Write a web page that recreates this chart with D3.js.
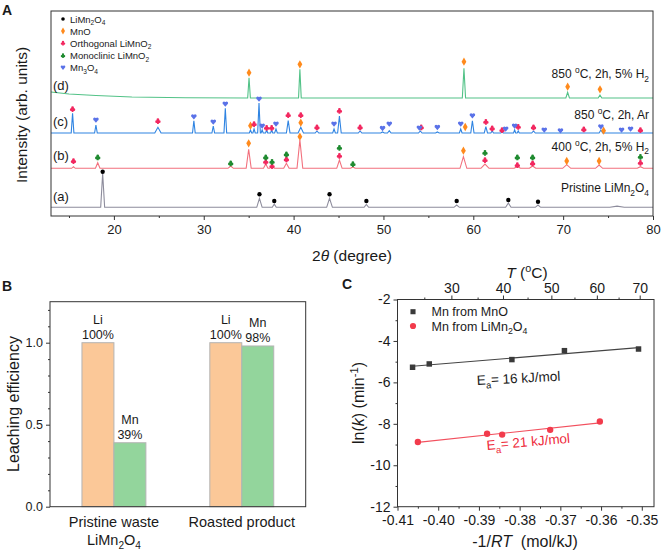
<!DOCTYPE html>
<html><head><meta charset="utf-8">
<script src="https://cdn.jsdelivr.net/npm/d3@7"></script>
<style>
body{margin:0;background:#fff}
svg{display:block}
text{font-family:"Liberation Sans",Arial,sans-serif;fill:#1a1a1a}
</style>
</head><body>
<svg id="fig" width="661" height="552"></svg>
<script>
// ===== Panel A data (XRD patterns) =====
const xTicksA = [20,30,40,50,60,70,80];
const xMinorA = [15,25,35,45,55,65,75];
const traceNames = ["a","b","c","d"];
const traceBase = [8.7, 47.7, 83, 118];
const traceColors = ["#8d8c9c","#f2707d","#2f84e2","#52c287"];
// peaks: [2theta, height, half-width]
const peaksA_a = [[18.75,33.8,0.22],[36.2,9,0.3],[37.85,3.3,0.22],[44.0,9,0.32],[48.1,2.8,0.25],[58.15,2.3,0.3],[63.9,4.3,0.3],[67.2,2.3,0.3],[76.0,1.2,0.8]];
const peaksA_b = [[15.5,1.6,0.2],[18.2,5.6,0.25],[33.0,2.3,0.3],[35.0,19,0.28],[36.9,4.3,0.25],[37.6,2.3,0.25],[39.2,5,0.3],[40.7,28.3,0.32],[45.1,8.3,0.3],[46.6,1.3,0.25],[58.9,11.6,0.38],[61.3,4.3,0.45],[64.9,1.8,0.35],[66.6,2.3,0.35],[70.4,3.6,0.45],[74.0,3.3,0.4],[78.6,1.6,0.35]];
const peaksA_c = [[15.4,19.7,0.15],[18.0,8,0.15],[24.9,5.7,0.35],[28.9,12.3,0.15],[31.06,7,0.15],[32.4,24.7,0.15],[35.2,3,0.13],[35.6,4,0.13],[36.15,30,0.15],[36.5,3,0.12],[37.0,3,0.12],[37.56,3,0.12],[38.04,4,0.15],[39.4,12.3,0.2],[40.8,5.7,0.3],[42.6,2,0.2],[44.5,4,0.15],[45.1,17,0.2],[47.4,2,0.2],[49.9,1,0.2],[50.65,2.3,0.2],[54.1,2,0.2],[56.0,1,0.2],[58.6,4,0.15],[59.9,12.3,0.18],[61.4,6.3,0.18],[62.1,2,0.15],[63.2,1,0.15],[64.6,3,0.12],[65.0,2,0.12],[66.7,2,0.2],[74.2,3,0.2]];
const peaksA_d = [[35.04,20.3,0.15],[40.7,28.7,0.15],[58.96,29.7,0.18],[70.5,5.7,0.2],[74.1,3,0.2]];
const bgA_d = [[13,124],[15,122],[18,120.5],[22,119],[28,118.3]];
// phase markers: [2theta, intensity]
const mkLiMn2O4 = [[18.75,44.3],[36.2,21.7],[37.85,15],[44.0,21.7],[48.1,15],[58.15,15],[63.9,16],[67.2,14.3]];
const mkMnO = [[35.04,143.3],[40.7,151.7],[58.96,154.3],[70.5,129.3],[74.1,126.7],[35.2,90.3],[40.8,93.3],[59.1,89],[74.5,85.3],[35.0,72.7],[40.7,79.3],[58.9,65.3],[70.4,55],[74.0,55]];
const mkOrtho = [[15.4,107],[24.9,95],[35.6,92],[37.0,88.3],[37.56,88.3],[39.4,101],[40.8,101],[42.6,88.7],[45.1,105.3],[47.4,88.7],[54.2,88.7],[61.4,94.3],[62.1,87.7],[63.2,86],[65.0,89.3],[66.7,88.7],[72.3,86.7],[78.6,86],[15.5,55],[36.9,54.3],[37.6,50],[39.2,56.7],[45.1,60.3],[61.3,56],[64.9,51],[66.6,52.7],[78.6,53.3]];
const mkMono = [[18.2,58.7],[33.0,52.7],[36.9,58.7],[37.6,54.3],[39.2,61.7],[45.1,68.3],[46.6,52],[61.3,63.3],[64.9,58.7],[66.6,58.7],[78.6,59.3]];
const mkMn3O4 = [[18.0,96],[28.9,99.3],[31.06,94],[32.4,112],[36.15,117],[36.5,90],[38.04,92],[44.5,92],[49.9,87.7],[50.65,92],[54.0,88],[56.0,88.7],[58.6,92],[59.9,100.3],[63.6,87],[64.6,90],[67.9,86],[69.7,85.3],[74.2,89.3],[76.5,86],[77.5,87]];
const legendA = ["LiMn_{2}O_{4}","MnO","Orthogonal LiMnO_{2}","Monoclinic LiMnO_{2}","Mn_{3}O_{4}"];
const traceLabels = ["Pristine LiMn_{2}O_{4}","400 ^{o}C, 2h, 5% H_{2}","850 ^{o}C, 2h, Ar","850 ^{o}C, 2h, 5% H_{2}"];

// ===== Panel B data =====
const catsB = ["pristine","roasted"];
const catLabelsB = [["Pristine waste","LiMn_{2}O_{4}"],["Roasted product"]];
const liB = [1.0, 1.0];
const mnB = [0.39, 0.98];
const liPct = ["100%","100%"];
const mnPct = ["39%","98%"];
const yTicksB = [0,0.5,1.0];
const yMinorB = [0.1,0.2,0.3,0.4,0.6,0.7,0.8,0.9,1.1,1.2];

// ===== Panel C data =====
const mnoX = [-0.4063,-0.4022,-0.3819,-0.3690,-0.3508];
const mnoY = [-5.27,-5.11,-4.90,-4.47,-4.39];
const lmoX = [-0.4050,-0.3880,-0.3843,-0.3725,-0.3603];
const lmoY = [-8.88,-8.48,-8.52,-8.29,-7.89];
const xTicksC = [-0.41,-0.40,-0.39,-0.38,-0.37,-0.36,-0.35];
const xMinorC = [-0.405,-0.395,-0.385,-0.375,-0.365,-0.355];
const yTicksC = [-2,-4,-6,-8,-10,-12];
const yMinorC = [-3,-5,-7,-9,-11];
const tTicksC = [30,40,50,60,70];
const tMinorC = [25,35,45,55,65];
const R_kJ = 0.008314;

// ===== helpers =====
const svg = d3.select("#fig");
function rich(sel, str, fs){
  const parts = str.split(/(_\{[^}]*\}|\^\{[^}]*\}|\*[^*]*\*)/).filter(s=>s.length);
  let cur = 0;
  parts.forEach(p=>{
    let t=p, shift=0, size=null, it=false;
    if(p.startsWith("_{")){t=p.slice(2,-1);shift=fs*0.3;size=fs*0.7;}
    else if(p.startsWith("^{")){t=p.slice(2,-1);shift=-fs*0.4;size=fs*0.7;}
    else if(p.startsWith("*")){t=p.slice(1,-1);it=true;}
    const ts = sel.append("tspan").text(t).attr("dy", (shift-cur).toFixed(2));
    if(size) ts.attr("font-size", size.toFixed(1));
    if(it) ts.attr("font-style","italic");
    cur = shift;
  });
}
function txt(g, x, y, str, o={}){
  const fs = o.fs||12;
  const t = g.append("text").attr("x",x).attr("y",y).attr("font-size",fs)
    .attr("text-anchor",o.anchor||"start").style("white-space","pre");
  if(o.fill) t.style("fill",o.fill);
  if(o.weight) t.attr("font-weight",o.weight);
  if(o.rotate!==undefined) t.attr("transform",`rotate(${o.rotate},${x},${y})`);
  rich(t,str,fs);
  return t;
}
function styleAxis(g, fs){
  g.select(".domain").remove();
  g.selectAll("line").attr("stroke","#333");
  g.selectAll("text").attr("font-size",fs).style("fill","#1a1a1a").attr("font-family",null);
}
const symClub = {draw(ctx,size){const r=Math.sqrt(size)/4.2;
  ctx.moveTo(r,-r);ctx.arc(0,-r,r,0,2*Math.PI);
  ctx.moveTo(-0.95*r+r,0.5*r);ctx.arc(-0.95*r,0.5*r,r,0,2*Math.PI);
  ctx.moveTo(0.95*r+r,0.5*r);ctx.arc(0.95*r,0.5*r,r,0,2*Math.PI);
  ctx.moveTo(0,0);ctx.lineTo(0.8*r,2.2*r);ctx.lineTo(-0.8*r,2.2*r);ctx.closePath();}};
const symHeart = {draw(ctx,size){const r=Math.sqrt(size)/4.4;
  ctx.moveTo(-0.85*r+r,-0.6*r);ctx.arc(-0.85*r,-0.6*r,r,0,2*Math.PI);
  ctx.moveTo(0.85*r+r,-0.6*r);ctx.arc(0.85*r,-0.6*r,r,0,2*Math.PI);
  ctx.moveTo(-1.75*r,-0.2*r);ctx.lineTo(1.75*r,-0.2*r);ctx.lineTo(0,1.9*r);ctx.closePath();}};
const phases = [
  {data:mkLiMn2O4, type:d3.symbolCircle, size:15, color:"#000"},
  {data:mkMnO, type:d3.symbolDiamond, size:20, color:"#ff8a1c"},
  {data:mkOrtho, type:symClub, size:34, color:"#f2275f"},
  {data:mkMono, type:symClub, size:34, color:"#1e8a2f"},
  {data:mkMn3O4, type:symHeart, size:44, color:"#5a72e8"}
];

// ===== Panel A =====
const xA = d3.scaleLinear().domain([13,80]).range([51,653]);
const yA = d3.scaleLinear().domain([0,205]).range([216,11]);
const gA = svg.append("g");
txt(gA, 2, 15, "A", {fs:14, weight:"bold"});
const peakSets = [peaksA_a, peaksA_b, peaksA_c, peaksA_d];
const bgSets = [[],[],[],bgA_d];
const line = d3.line().x(d=>xA(d[0])).y(d=>yA(d[1]));
traceNames.forEach((n,i)=>{
  const b = traceBase[i];
  let pts = bgSets[i].length ? bgSets[i].slice() : [[13,b]];
  peakSets[i].forEach(p=>{ pts.push([p[0]-p[2],b],[p[0],b+p[1]],[p[0]+p[2],b]); });
  pts.push([80,b]);
  pts.sort((u,v)=>u[0]-v[0]);
  gA.append("path").attr("d",line(pts)).attr("fill","none").attr("stroke",traceColors[i]).attr("stroke-width",1.1);
});
phases.forEach(ph=>{
  gA.selectAll(null).data(ph.data).join("path")
    .attr("transform",d=>`translate(${xA(d[0])},${yA(d[1])})`)
    .attr("d",d3.symbol().type(ph.type).size(ph.size)).attr("fill",ph.color);
});
gA.append("rect").attr("x",51).attr("y",11).attr("width",602).attr("height",205).attr("fill","none").attr("stroke","#333");
const axA = gA.append("g").attr("transform","translate(0,216)").call(d3.axisBottom(xA).tickValues(xTicksA).tickSize(4).tickSizeOuter(0));
styleAxis(axA,13); axA.selectAll("text").attr("y",9);
const axAm = gA.append("g").attr("transform","translate(0,216)").call(d3.axisBottom(xA).tickValues(xMinorA).tickSize(2).tickFormat(""));
styleAxis(axAm,13);
txt(gA, 352, 261, "2*θ* (degree)", {fs:15.5, anchor:"middle"});
txt(gA, 27, 115, "Intensity (arb. units)", {fs:15.5, anchor:"middle", rotate:-90});
// legend A
const legY = [19,31,43,55.5,67.5];
phases.forEach((ph,i)=>{
  gA.append("path").attr("transform",`translate(63,${legY[i]})`)
    .attr("d",d3.symbol().type(ph.type).size(ph.size*0.7)).attr("fill",ph.color);
  txt(gA, 70, legY[i]+3.5, legendA[i], {fs:9.5});
});
const trLabY = [192,150.5,119,78];
traceLabels.forEach((s,i)=>txt(gA, 649, trLabY[i], s, {fs:12, anchor:"end"}));
const trTagY = [201,159.5,125.5,89.5];
traceNames.forEach((n,i)=>txt(gA, 53, trTagY[i], `(${n})`, {fs:13}));

// ===== Panel B =====
const gB = svg.append("g");
txt(gB, 2, 291, "B", {fs:14, weight:"bold"});
const xB = d3.scaleBand().domain(catsB).range([50,305.7]);
const yB = d3.scaleLinear().domain([0,1.25]).range([506.7,301.7]);
const subB = d3.scaleBand().domain(["Li","Mn"]).range([xB.bandwidth()*0.25, xB.bandwidth()*0.75]);
const barCols = {Li:"#fbc898", Mn:"#93d59c"};
catsB.forEach((c,i)=>{
  const vals = {Li:liB[i], Mn:mnB[i]};
  const pcts = {Li:liPct[i], Mn:mnPct[i]};
  ["Li","Mn"].forEach(k=>{
    const x0 = xB(c)+subB(k);
    gB.append("rect").attr("x",x0).attr("y",yB(vals[k])).attr("width",subB.bandwidth())
      .attr("height",yB(0)-yB(vals[k])).attr("fill",barCols[k]).attr("stroke","#b4b4b4").attr("stroke-width",1);
    const cx = x0+subB.bandwidth()/2;
    txt(gB, cx, yB(vals[k])-19, k, {fs:12.5, anchor:"middle"});
    txt(gB, cx, yB(vals[k])-3.5, pcts[k], {fs:12.5, anchor:"middle"});
  });
  const cx = xB(c)+xB.bandwidth()/2;
  catLabelsB[i].forEach((s,j)=>txt(gB, cx, 527+j*17.5, s, {fs:14.5, anchor:"middle"}));
});
gB.append("rect").attr("x",50).attr("y",301.7).attr("width",255.7).attr("height",205).attr("fill","none").attr("stroke","#333");
const axB = gB.append("g").attr("transform","translate(50,0)").call(d3.axisLeft(yB).tickValues(yTicksB).tickSize(4).tickFormat(d3.format(".1f")));
styleAxis(axB,12.5);
const axBm = gB.append("g").attr("transform","translate(50,0)").call(d3.axisLeft(yB).tickValues(yMinorB).tickSize(2).tickFormat(""));
styleAxis(axBm,12);
txt(gB, 19, 404, "Leaching efficiency", {fs:16, anchor:"middle", rotate:-90});

// ===== Panel C =====
const gC = svg.append("g");
txt(gC, 342, 289, "C", {fs:14, weight:"bold"});
const xC = d3.scaleLinear().domain([-0.41,-0.347]).range([397.5,654]);
const yC = d3.scaleLinear().domain([-12,-2]).range([506.7,299.5]);
function fitLine(xs, ys){
  const mx=d3.mean(xs), my=d3.mean(ys);
  const sxy=d3.sum(xs,(x,i)=>(x-mx)*(ys[i]-my)), sxx=d3.sum(xs,x=>(x-mx)**2);
  const k=sxy/sxx, b=my-k*mx; const x0=d3.min(xs), x1=d3.max(xs);
  return [[x0,k*x0+b],[x1,k*x1+b]];
}
const lineC = d3.line().x(d=>xC(d[0])).y(d=>yC(d[1]));
gC.append("path").attr("d",lineC(fitLine(mnoX,mnoY))).attr("stroke","#444").attr("stroke-width",1.1).attr("fill","none");
gC.append("path").attr("d",lineC(fitLine(lmoX,lmoY))).attr("stroke","#f2505e").attr("stroke-width",1.1).attr("fill","none");
gC.selectAll(null).data(mnoX.map((x,i)=>[x,mnoY[i]])).join("path")
  .attr("transform",d=>`translate(${xC(d[0])},${yC(d[1])})`)
  .attr("d",d3.symbol().type(d3.symbolSquare).size(30)).attr("fill","#3a3a3a");
gC.selectAll(null).data(lmoX.map((x,i)=>[x,lmoY[i]])).join("path")
  .attr("transform",d=>`translate(${xC(d[0])},${yC(d[1])})`)
  .attr("d",d3.symbol().type(d3.symbolCircle).size(32)).attr("fill","#f23b4c");
gC.append("rect").attr("x",397.5).attr("y",299.5).attr("width",256.5).attr("height",207.2).attr("fill","none").attr("stroke","#333");
const axCb = gC.append("g").attr("transform","translate(0,506.7)").call(d3.axisBottom(xC).tickValues(xTicksC).tickSize(4).tickFormat(d=>d.toFixed(2)));
styleAxis(axCb,14); axCb.selectAll("text").attr("y",8);
const axCbm = gC.append("g").attr("transform","translate(0,506.7)").call(d3.axisBottom(xC).tickValues(xMinorC).tickSize(2).tickFormat(""));
styleAxis(axCbm,14);
const axCl = gC.append("g").attr("transform","translate(397.5,0)").call(d3.axisLeft(yC).tickValues(yTicksC).tickSize(4).tickFormat(d=>String(d)));
styleAxis(axCl,14);
const axClm = gC.append("g").attr("transform","translate(397.5,0)").call(d3.axisLeft(yC).tickValues(yMinorC).tickSize(2).tickFormat(""));
styleAxis(axClm,14);
const tToX = t => -1/(R_kJ*(t+273.15));
const axCt = gC.append("g").attr("transform","translate(0,299.5)").call(d3.axisTop(xC).tickValues(tTicksC.map(tToX)).tickSize(4).tickFormat((d,i)=>tTicksC[i]));
styleAxis(axCt,14);
const axCtm = gC.append("g").attr("transform","translate(0,299.5)").call(d3.axisTop(xC).tickValues(tMinorC.map(tToX)).tickSize(2).tickFormat(""));
styleAxis(axCtm,14);
txt(gC, 527, 278, "*T* (^{o}C)", {fs:15.5, anchor:"middle"});
txt(gC, 525, 547, "-1/*RT*  (mol/kJ)", {fs:16, anchor:"middle"});
txt(gC, 364, 403, "ln(*k*) (min^{-1})", {fs:16, anchor:"middle", rotate:-90});
// legend C
gC.append("path").attr("transform","translate(413,311.7)").attr("d",d3.symbol().type(d3.symbolSquare).size(26)).attr("fill","#3a3a3a");
gC.append("path").attr("transform","translate(413,326)").attr("d",d3.symbol().type(d3.symbolCircle).size(30)).attr("fill","#f23b4c");
txt(gC, 431.5, 316, "Mn from MnO", {fs:12.5});
txt(gC, 431.5, 330.5, "Mn from LiMn_{2}O_{4}", {fs:12.5});
txt(gC, 477, 385, "E_{a}= 16 kJ/mol", {fs:13.5, rotate:-3});
txt(gC, 487, 450, "E_{a}= 21 kJ/mol", {fs:13.5, rotate:-5, fill:"#ee2a3a"});
</script>
</body></html>
